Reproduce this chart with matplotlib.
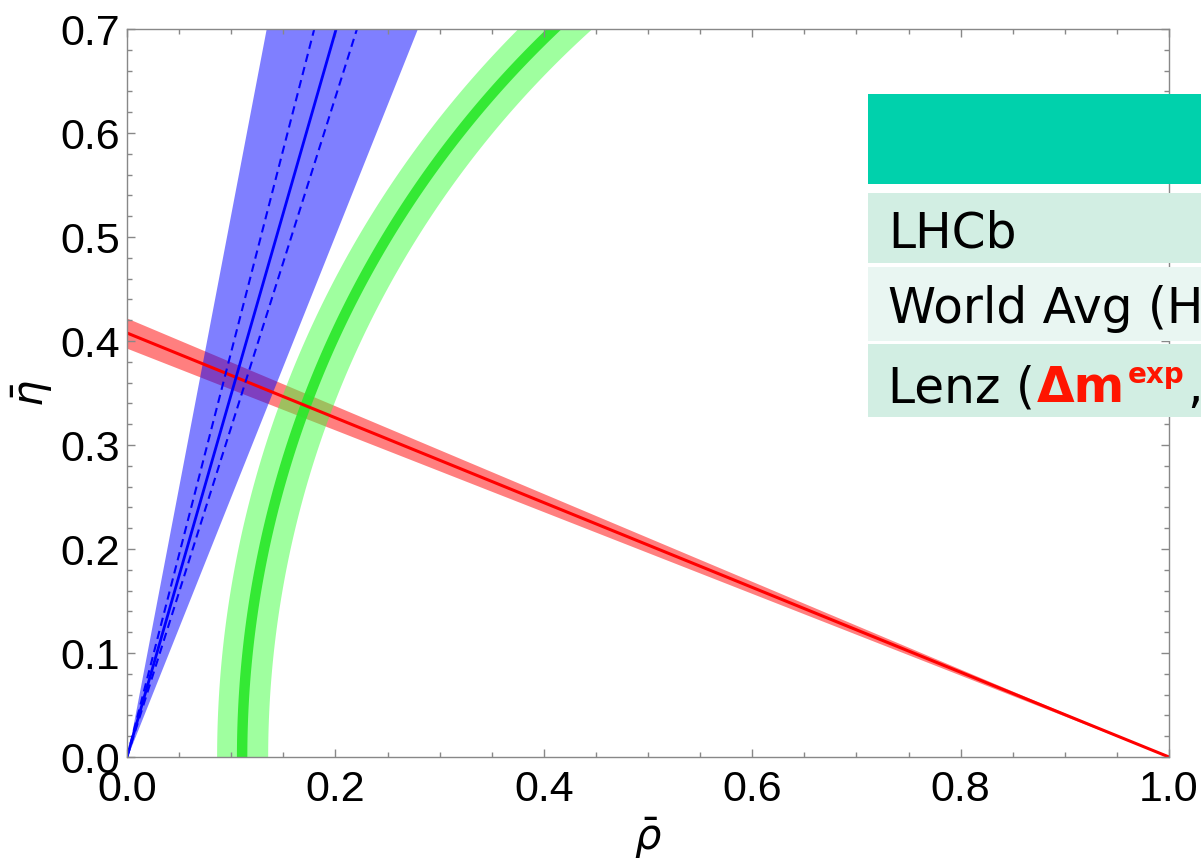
import numpy as np
import matplotlib
matplotlib.use('Agg')
import matplotlib.pyplot as plt
from matplotlib.patches import Rectangle

# --- valores ---
rho_ticks = [0.0, 0.2, 0.4, 0.6, 0.8, 1.0]
eta_ticks = [0.0, 0.1, 0.2, 0.3, 0.4, 0.5, 0.6, 0.7]

# faixa vermelha: reta saindo de (1, 0), valor de eta em rho = 0
red_low, red_mid, red_high = 0.393, 0.4077, 0.422

# cunha azul saindo da origem: angulos (graus) em relacao ao eixo rho
gam_low, gam_dash_low, gam_mid, gam_dash_high, gam_high = 68.3, 72.5, 74.0, 75.6, 79.2

# arco verde: centro no eixo rho e raios (claro / escuro)
arc_centre = 1.079
arc_light = (0.944, 0.993)
arc_dark = (0.964, 0.974)

# tabela sobreposta (slide)
header_colour = '#00d1ac'
row_labels = ['LHCb', 'World Avg (HFLAV)']
row_colours = ['#d2eee3', '#e9f6f2', '#d2eee3']

W, H = 1201, 863
fig = plt.figure(figsize=(W / 100, H / 100), dpi=100)
ax = fig.add_axes([127 / W, 106 / H, 1042 / W, 728 / H])

rho = np.linspace(0, 1, 400)
eta = np.linspace(0, 0.7, 400)


def cot(d):
    return 1. / np.tan(np.radians(d))


# Faixa vermelha
ax.fill_between(rho, red_low * (1 - rho), red_high * (1 - rho), color='red', alpha=0.5, lw=0)
ax.plot(rho, red_mid * (1 - rho), color='red', lw=2.2)

# Cunha azul
ax.fill_betweenx(eta, eta * cot(gam_high), eta * cot(gam_low), color='blue', alpha=0.5, lw=0)
ax.plot(eta * cot(gam_mid), eta, color='blue', lw=2.0)
for g in (gam_dash_low, gam_dash_high):
    ax.plot(eta * cot(g), eta, color='blue', lw=1.5, ls=(0, (4, 2.5)))

# Arco verde
ax.fill_betweenx(eta, arc_centre - np.sqrt(arc_light[1]**2 - eta**2),
                 arc_centre - np.sqrt(arc_light[0]**2 - eta**2),
                 color=(0.25, 1.0, 0.25), alpha=0.5, lw=0)
ax.fill_betweenx(eta, arc_centre - np.sqrt(arc_dark[1]**2 - eta**2),
                 arc_centre - np.sqrt(arc_dark[0]**2 - eta**2),
                 color='#2ee82e', alpha=0.95, lw=0)

# *** Configuracoes do plot ***
ax.set_xlim(0, 1)
ax.set_ylim(0, 0.7)
ax.set_xticks(rho_ticks)
ax.set_xticks(np.arange(0, 1.001, 0.05), minor=True)
ax.set_yticks(eta_ticks)
ax.set_yticks(np.arange(0, 0.701, 0.02), minor=True)
ax.set_xticklabels(['%.1f' % v for v in rho_ticks])
ax.set_yticklabels(['%.1f' % v for v in eta_ticks])
ax.tick_params(which='both', direction='in', top=True, right=True, color='#888888', width=1)
ax.tick_params(which='major', length=6, pad=9, labelsize=31)
ax.tick_params(axis='y', which='major', pad=5)
ax.tick_params(which='minor', length=3.5)
for lab in ax.get_xticklabels() + ax.get_yticklabels():
    lab.set_fontfamily('Liberation Sans')
for s in ax.spines.values():
    s.set_color('#888888')
    s.set_linewidth(1)
ax.set_xlabel(r'$\bar{\rho}$', fontsize=30, labelpad=4)
ax.set_ylabel(r'$\bar{\eta}$', fontsize=30, labelpad=4)

# Tabela sobreposta, em coordenadas de pixel
tab = fig.add_axes([868 / W, 1 - 417 / H, 333 / W, 323 / H])
tab.set_xlim(0, 333)
tab.set_ylim(417, 94)
tab.axis('off')
tab.add_patch(Rectangle((0, 94), 340, 90, color=header_colour, lw=0))
row_spans = [(193, 263), (267, 341), (344, 420)]
for (y0, y1), c in zip(row_spans, row_colours):
    tab.add_patch(Rectangle((0, y0), 340, y1 - y0, color=c, lw=0))

baselines = [247, 323, 402]
for lab, yb in zip(row_labels, baselines):
    tab.text(20, yb, lab, fontsize=35, va='baseline', ha='left', clip_on=True,
             family='DejaVu Sans')

# Linha 3 com partes em vermelho
red_txt = '#ff1500'
t1 = tab.text(20, baselines[2], 'Lenz (', fontsize=35, va='baseline', clip_on=True,
              family='DejaVu Sans')
fig.canvas.draw()
inv = tab.transData.inverted()
x1 = inv.transform((t1.get_window_extent().x1, 0))[0]
t2 = tab.text(x1 + 2, baselines[2], u'\u0394m', fontsize=35, va='baseline', color=red_txt,
              weight='bold', clip_on=True, family='DejaVu Sans')
fig.canvas.draw()
x2 = inv.transform((t2.get_window_extent().x1, 0))[0]
t3 = tab.text(x2 + 3, baselines[2] - 19, 'exp', fontsize=20, va='baseline', color=red_txt,
              weight='bold', clip_on=True, family='DejaVu Sans')
fig.canvas.draw()
x3 = inv.transform((t3.get_window_extent().x1, 0))[0]
tab.text(x3 + 2, baselines[2], ',', fontsize=35, va='baseline', clip_on=True,
         family='DejaVu Sans')

fig.savefig('out.png', dpi=100)
